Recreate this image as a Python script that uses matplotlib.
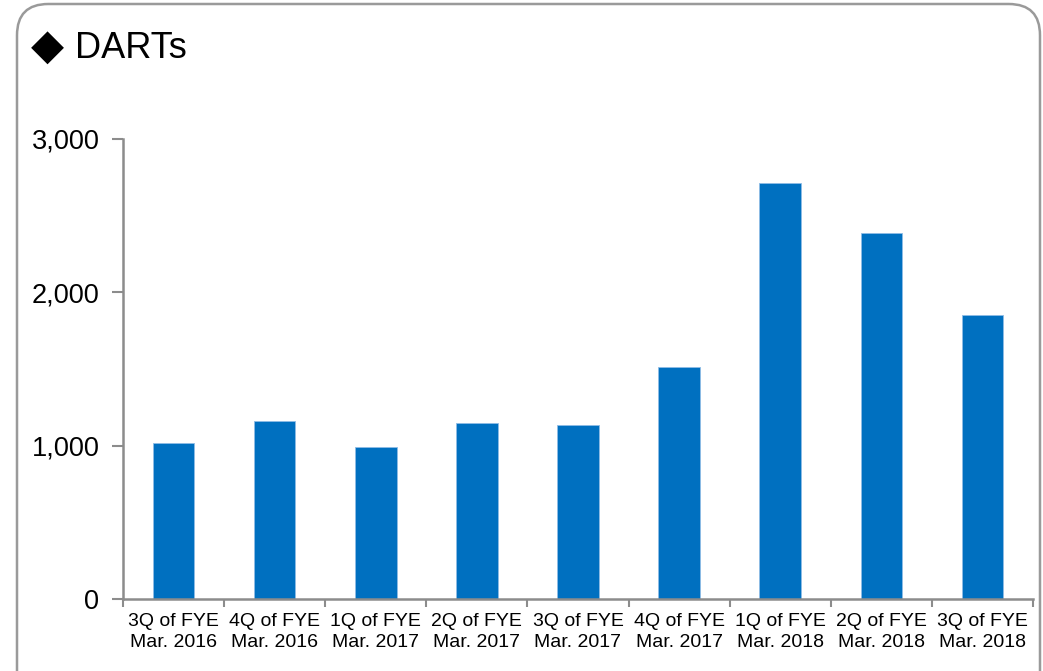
import matplotlib
matplotlib.use('Agg')
import matplotlib.pyplot as plt
from matplotlib.patches import FancyBboxPatch

categories = ['3Q of FYE\nMar. 2016', '4Q of FYE\nMar. 2016', '1Q of FYE\nMar. 2017',
              '2Q of FYE\nMar. 2017', '3Q of FYE\nMar. 2017', '4Q of FYE\nMar. 2017',
              '1Q of FYE\nMar. 2018', '2Q of FYE\nMar. 2018', '3Q of FYE\nMar. 2018']
darts = [1019, 1161, 993, 1148, 1135, 1513, 2711, 2389, 1850]
yticks = [0, 1000, 2000, 3000]
ytick_labels = ['0', '1,000', '2,000', '3,000']

plt.rcParams['font.family'] = ['Liberation Sans', 'DejaVu Sans']
W, H = 1043, 671
fig = plt.figure(figsize=(W / 100, H / 100), dpi=100)

# rounded frame around the whole chart
frame = FancyBboxPatch((17 / W, -40 / H), 1023 / W, 707 / H,
                       boxstyle='round,pad=0,rounding_size=0.03',
                       transform=fig.transFigure, facecolor='none',
                       edgecolor='#9a9a9a', linewidth=1.8, mutation_aspect=W / H)
fig.patches.append(frame)

fig.text(31 / W, 1 - 59 / H, '◆', fontsize=31, ha='left', va='baseline')
fig.text(75 / W, 1 - 58 / H, 'DARTs', fontsize=26, ha='left', va='baseline')

ax = fig.add_axes([123 / W, 1 - 599 / H, 910 / W, 460 / H])
x = list(range(len(categories)))
ax.bar(x, darts, width=0.41, color='#0070C0', edgecolor='#8fbce6', linewidth=0.6)

ax.set_xlim(-0.5, len(categories) - 0.5)
ax.set_ylim(0, 3000)
ax.set_yticks(yticks)
ax.set_yticklabels(ytick_labels, fontsize=19.5)
ax.set_xticks([i - 0.5 for i in range(len(categories) + 1)])
ax.set_xticklabels([])
ax.set_xticks(x, minor=True)
ax.set_xticklabels(categories, minor=True, fontsize=14, linespacing=1.3)
ax.tick_params(axis='x', which='minor', length=0, pad=10)
ax.tick_params(axis='x', which='major', length=6, width=1.5, color='#8c8c8c')
ax.tick_params(axis='y', length=8, width=1.5, color='#8c8c8c', pad=9)

for s in ['top', 'right']:
    ax.spines[s].set_visible(False)
for s in ['left', 'bottom']:
    ax.spines[s].set_color('#8c8c8c')
    ax.spines[s].set_linewidth(1.8)

fig.savefig('out.png', dpi=100)
